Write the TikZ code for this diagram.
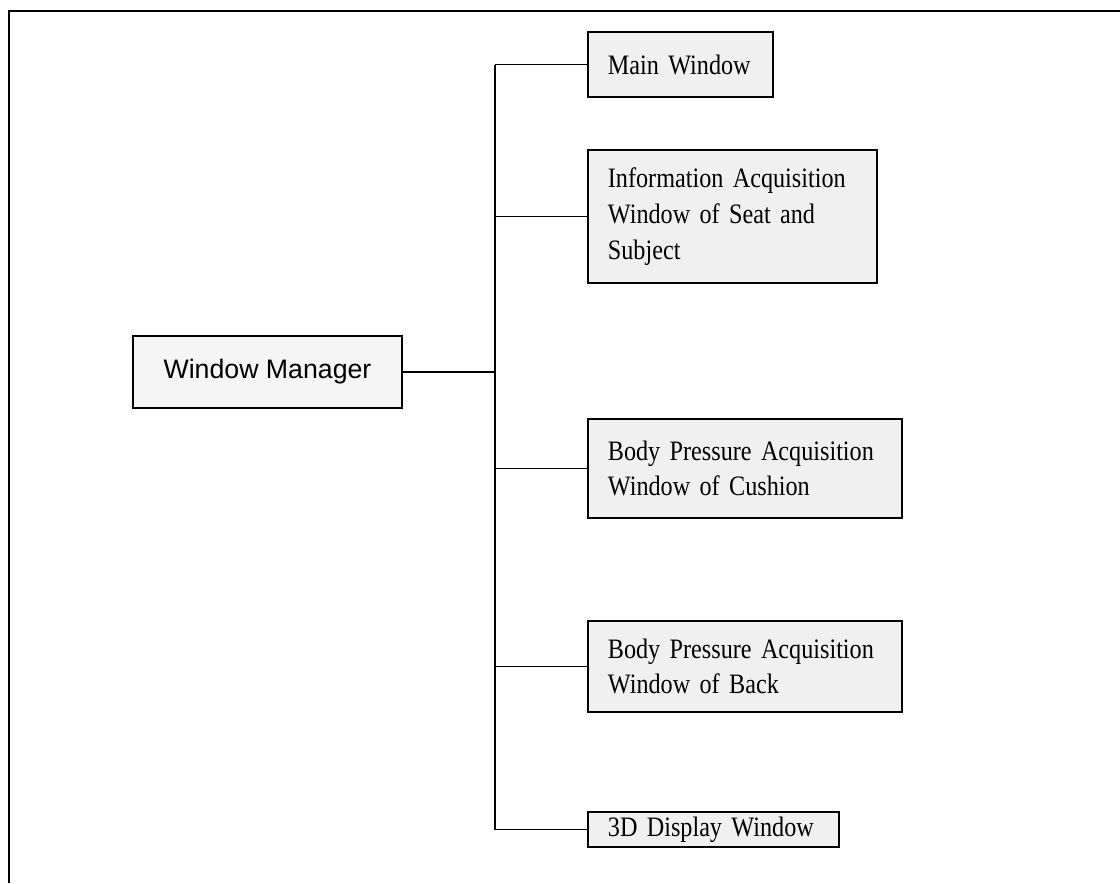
\documentclass[tikz,border=0pt]{standalone}
\usepackage{fontspec}
\newfontfamily\boxfont[FakeStretch=0.86]{Liberation Serif}
\newfontfamily\mgrfont{Liberation Sans}

\begin{document}
\begin{tikzpicture}[
    x=0.025cm, y=-0.025cm,
    winbox/.style={draw, line width=1.3pt, fill=black!6, anchor=west, align=left,
                   inner xsep=0.5cm, inner ysep=2pt,
                   font=\boxfont\fontsize{20}{25.5}\selectfont},
    mgrbox/.style={draw, line width=2pt, fill=black!4, minimum width=6.725cm,
                   minimum height=1.8cm, font=\mgrfont\fontsize{19}{23}\selectfont},
    link/.style={line width=1.4pt}
  ]
    \useasboundingbox (0,0) rectangle (1120,883);
    % frame: only the top and left edges are in the picture
    \draw[line width=1.4pt] (9,883) -- (9,11) -- (1120,11);

    \node[mgrbox] (mgr) at (267.5,372) {Window Manager};
    \node[winbox, text width=3.625cm, minimum height=1.625cm] (main) at (587,64.5) {Main Window};
    \node[winbox, text width=6.225cm, minimum height=3.325cm] (info) at (587,216.5)
        {Information Acquisition\\Window of Seat and\\Subject};
    \node[winbox, text width=6.85cm, minimum height=2.475cm] (cush) at (587,468.5)
        {Body Pressure Acquisition\\Window of Cushion};
    \node[winbox, text width=6.85cm, minimum height=2.275cm] (back) at (587,666.5)
        {Body Pressure Acquisition\\Window of Back};
    \node[winbox, text width=5.275cm, minimum height=0.875cm] (disp) at (587,829.5) {3D Display Window};

    \coordinate (trunk) at (495,372);
    \draw[line width=2pt] (mgr.east) -- (trunk);
    \draw[link] (main.west -| trunk) -- (disp.west -| trunk);
    \draw[link] (main.west) -- (main.west -| trunk);
    \draw[link] (info.west) -- (info.west -| trunk);
    \draw[link] (cush.west) -- (cush.west -| trunk);
    \draw[link] (back.west) -- (back.west -| trunk);
    \draw[link] (disp.west) -- (disp.west -| trunk);
\end{tikzpicture}
\end{document}
